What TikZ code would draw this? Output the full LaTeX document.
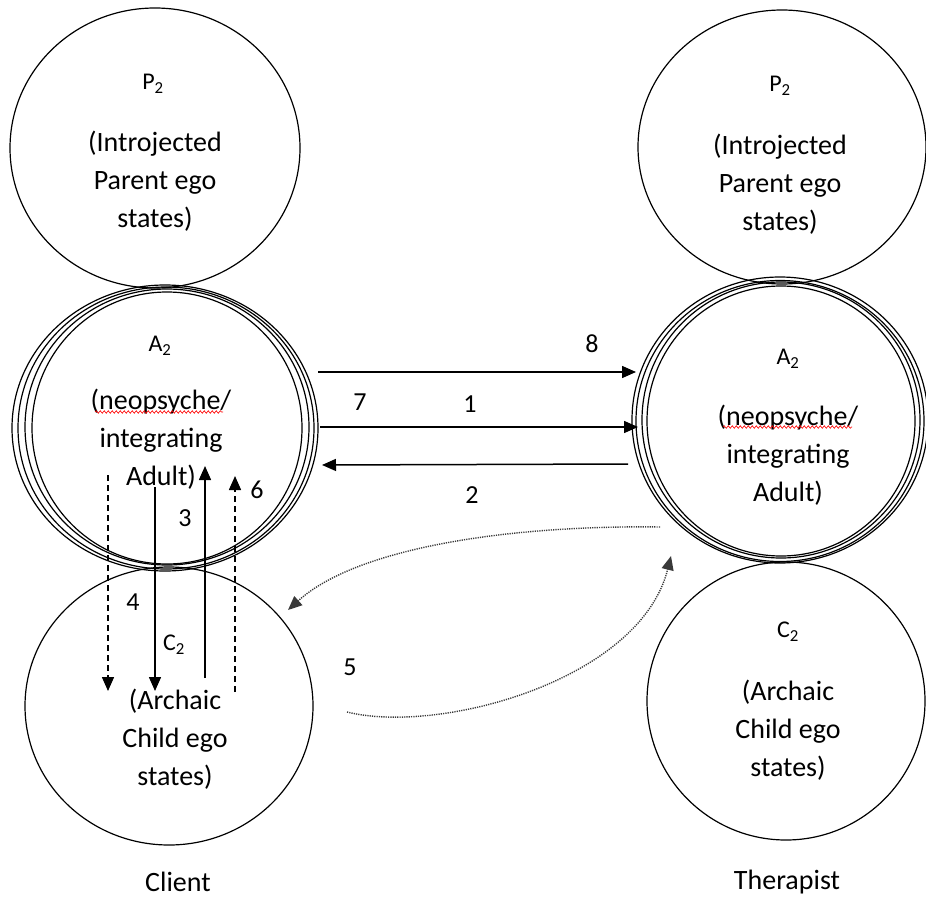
\documentclass[tikz,border=0pt]{standalone}
\usepackage{fontspec}
\setmainfont{Carlito}
\usetikzlibrary{arrows.meta,shapes.geometric,decorations.pathmorphing}
\begin{document}
\begin{tikzpicture}[x=1pt,y=-1pt,
  egoring/.style={ellipse, draw, line width=1.2pt, inner sep=0pt},
  bodytext/.style={align=center, font=\fontsize{28}{38}\selectfont, inner sep=0pt},
  statelabel/.style={font=\fontsize{24}{26}\selectfont, inner sep=0pt},
  numlabel/.style={font=\fontsize{26}{30}\selectfont, inner sep=0pt},
  caption/.style={font=\fontsize{28}{32}\selectfont, inner sep=0pt},
  flow/.style={line width=1.5pt, -{Triangle[length=14pt,width=12pt]}},
  dashflow/.style={flow, dash pattern=on 6pt off 4pt},
  dotflow/.style={line width=1.4pt, gray!45!black, dash pattern=on 1.2pt off 1.1pt,
    -{Triangle[length=14pt,width=12pt]}},
  spellmark/.style={red, line width=0.6pt, decorate,
    decoration={snake, amplitude=1.3pt, segment length=4pt}}]
\useasboundingbox (0,0) rectangle (926,899);

% ---- Client ----
\node[egoring, minimum width=290pt, minimum height=280pt] (lP) at (155,148) {};
\node[egoring, minimum width=306pt, minimum height=286pt] (lA) at (165,428) {};
\node[egoring, minimum width=296pt, minimum height=282pt] (lAb) at (166,428) {};
\node[egoring, minimum width=284pt, minimum height=276pt] (lAc) at (167,427) {};
\node[egoring, minimum width=270pt, minimum height=272pt] (lAd) at (167,428) {};
\node[egoring, minimum width=288pt, minimum height=278pt] (lC) at (169,706) {};

\node[statelabel] (lPt) at (153,84) {P\textsubscript{2}};
\node[bodytext] (lPx) at (155,181) {(Introjected\\Parent ego\\states)};
\node[statelabel] (lAt) at (160,346) {A\textsubscript{2}};
\node[bodytext] (lAx) at (161,439) {(neopsyche/\\integrating\\Adult)};
\node[statelabel] (lCt) at (174,645) {C\textsubscript{2}};
\node[bodytext] (lCx) at (175,739) {(Archaic\\Child ego\\states)};
\node[caption] (client) at (178,882) {Client};

% ---- Therapist ----
\node[egoring, minimum width=288pt, minimum height=274pt] (rP) at (782,147) {};
\node[egoring, minimum width=296pt, minimum height=286pt] (rA) at (780,420) {};
\node[egoring, minimum width=288pt, minimum height=281pt] (rAb) at (780,421) {};
\node[egoring, minimum width=278pt, minimum height=276pt] (rAc) at (781,420) {};
\node[egoring, minimum width=268pt, minimum height=270pt] (rAd) at (781,421) {};
\node[egoring, minimum width=278pt, minimum height=278pt] (rC) at (786,701) {};

\node[statelabel] (rPt) at (780,86) {P\textsubscript{2}};
\node[bodytext] (rPx) at (780,184) {(Introjected\\Parent ego\\states)};
\node[statelabel] (rAt) at (788,359) {A\textsubscript{2}};
\node[bodytext] (rAx) at (788,455) {(neopsyche/\\integrating\\Adult)};
\node[statelabel] (rCt) at (788,632) {C\textsubscript{2}};
\node[bodytext] (rCx) at (788,730) {(Archaic\\Child ego\\states)};
\node[caption] (therapist) at (787,882) {Therapist};

% spelling marks under "neopsyche"
\draw[spellmark] (95,412) -- (223,412);
\draw[spellmark] (723,427) -- (852,427);

% ---- end points of the transactions ----
\coordinate (e8s) at (318,372);  \coordinate (e8e) at (636,372);
\coordinate (e1s) at (320,427);  \coordinate (e1e) at (638,427);
\coordinate (e2s) at (628,464);  \coordinate (e2e) at (322,465);
\coordinate (e4s) at (108,475);  \coordinate (e4e) at (108,691);
\coordinate (eCs) at (155,487);  \coordinate (eCe) at (155,691);
\coordinate (e3s) at (205,678);  \coordinate (e3e) at (205,466);
\coordinate (e6s) at (235,692);  \coordinate (e6e) at (235,476);
\coordinate (e5as) at (660,527); \coordinate (e5ae) at (288,610);
\coordinate (e5bs) at (347,712); \coordinate (e5be) at (671,556);

\draw[flow] (e8s) -- (e8e);
\draw[flow] (e1s) -- (e1e);
\draw[flow] (e2s) -- (e2e);
\draw[dashflow] (e4s) -- (e4e);
\draw[flow] (eCs) -- (eCe);
\draw[flow] (e3s) -- (e3e);
\draw[dashflow] (e6s) -- (e6e);
\draw[dotflow] (e5as) .. controls (520,525) and (360,545) .. (e5ae);
\draw[dotflow] (e5bs) .. controls (440,735) and (640,680) .. (e5be);

% ---- transaction numbers ----
\node[numlabel] (n8) at (592,344) {8};
\node[numlabel] (n7) at (360,402) {7};
\node[numlabel] (n1) at (470,404) {1};
\node[numlabel] (n2) at (472,495) {2};
\node[numlabel] (n3) at (185,518) {3};
\node[numlabel] (n6) at (257,490) {6};
\node[numlabel] (n4) at (133,602) {4};
\node[numlabel] (n5) at (350,667) {5};
\end{tikzpicture}
\end{document}
